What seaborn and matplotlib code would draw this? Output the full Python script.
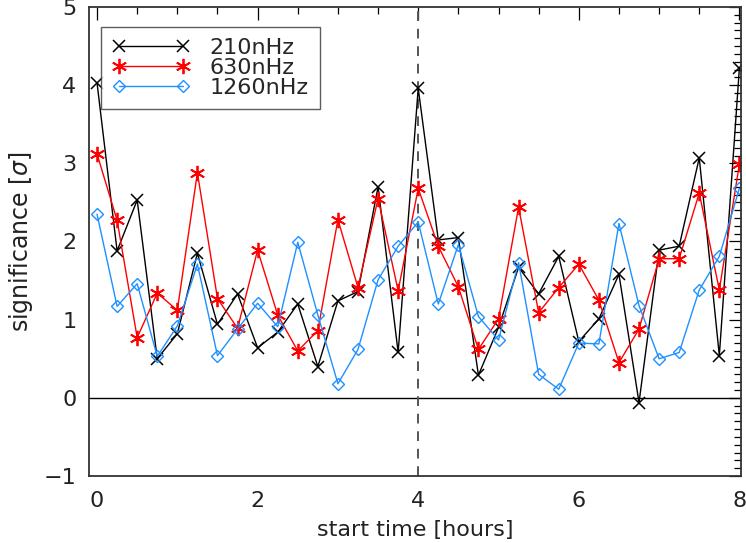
import numpy as np
import pandas as pd
import matplotlib
matplotlib.use("Agg")
import matplotlib.pyplot as plt
import seaborn as sns
from matplotlib.ticker import MultipleLocator

# ---- data ----
start_time = [0.0, 0.25, 0.5, 0.75, 1.0, 1.25, 1.5, 1.75, 2.0, 2.25, 2.5, 2.75,
              3.0, 3.25, 3.5, 3.75, 4.0, 4.25, 4.5, 4.75, 5.0, 5.25, 5.5, 5.75,
              6.0, 6.25, 6.5, 6.75, 7.0, 7.25, 7.5, 7.75, 8.0]
sig_210 = [4.03, 1.88, 2.53, 0.50, 0.82, 1.85, 0.94, 1.33, 0.64, 0.84, 1.20, 0.40,
           1.24, 1.36, 2.70, 0.58, 3.96, 2.02, 2.05, 0.29, 0.90, 1.67, 1.33, 1.81,
           0.72, 1.01, 1.58, -0.06, 1.89, 1.94, 3.07, 0.54, 4.22]
sig_630 = [3.12, 2.27, 0.77, 1.34, 1.12, 2.88, 1.27, 0.89, 1.89, 1.06, 0.60, 0.86,
           2.28, 1.41, 2.55, 1.37, 2.68, 1.94, 1.42, 0.62, 1.01, 2.44, 1.09, 1.41,
           1.71, 1.25, 0.45, 0.88, 1.78, 1.78, 2.62, 1.38, 2.99]
sig_1260 = [2.35, 1.17, 1.46, 0.53, 0.92, 1.71, 0.54, 0.88, 1.21, 0.91, 1.99, 1.06,
            0.18, 0.62, 1.51, 1.94, 2.25, 1.20, 1.96, 1.04, 0.74, 1.73, 0.30, 0.11,
            0.70, 0.69, 2.23, 1.18, 0.50, 0.58, 1.38, 1.81, 2.68]
series_labels = ["210nHz", "630nHz", "1260nHz"]
x_ticks = [0, 2, 4, 6, 8]
y_ticks = [-1, 0, 1, 2, 3, 4, 5]
y_tick_labels = ["\u22121", "0", "1", "2", "3", "4", "5"]

df = pd.DataFrame({
    "start time": start_time * 3,
    "significance": sig_210 + sig_630 + sig_1260,
    "series": sum([[lab] * len(start_time) for lab in series_labels], []),
})

sns.set_style("white")
plt.rcParams["font.family"] = ["DejaVu Sans"]

fig = plt.figure(figsize=(7.46, 5.43), dpi=100)
ax = fig.add_axes([0.1193, 0.1234, 0.8740, 0.8637])

styles = {
    "210nHz": dict(color="black", marker="x", ms=9, mew=1.1, mfc="black"),
    "630nHz": dict(color="#ff0000", marker=(6, 2, 0), ms=11, mew=1.3, mfc="#ff0000"),
    "1260nHz": dict(color="#1e90ff", marker="D", ms=6.5, mew=1.0, mfc="none"),
}
for lab in series_labels:
    st = styles[lab]
    sns.lineplot(data=df[df["series"] == lab], x="start time", y="significance",
                 ax=ax, color=st["color"], marker=st["marker"], markersize=st["ms"],
                 markeredgewidth=st["mew"], markerfacecolor=st["mfc"],
                 markeredgecolor=st["color"], linewidth=1.0, label=lab,
                 errorbar=None, estimator=None)

ax.axhline(0, color="black", lw=1.0, zorder=1)
ax.axvline(4, color="#555555", lw=1.4, ls=(0, (5, 4)), zorder=1)

ax.set_xlim(-0.1, 8.02)
ax.set_ylim(-1, 5)
ax.set_xticks(x_ticks)
ax.set_yticks(y_ticks)
ax.set_yticklabels(y_tick_labels)
ax.xaxis.set_minor_locator(MultipleLocator(0.5))
ax.yaxis.set_minor_locator(MultipleLocator(0.1))
ax.tick_params(which="both", direction="in", top=True, right=True,
               color="black", width=0.9)
ax.tick_params(which="major", length=9, labelsize=16, labelcolor="#222222")
ax.tick_params(axis="x", which="major", pad=11)
ax.tick_params(axis="y", which="major", pad=9)
ax.tick_params(which="minor", length=5)
for sp in ax.spines.values():
    sp.set_color("#333333")
    sp.set_linewidth(1.3)

ax.set_xlabel("start time [hours]", fontsize=16, color="#222222", labelpad=6)
ax.set_ylabel("significance [$\\sigma$]", fontsize=17, color="#222222")
ax.yaxis.set_label_coords(-0.083, 0.5)

leg = ax.legend(loc="upper left", bbox_to_anchor=(0.018, 0.958), numpoints=2,
                handlelength=3.5, fontsize=16, frameon=True, fancybox=False,
                borderpad=0.5, labelspacing=0.0, handletextpad=0.9,
                borderaxespad=0.0)
leg.get_frame().set_edgecolor("#333333")
leg.get_frame().set_linewidth(1.0)

fig.savefig("out.png", dpi=100)
